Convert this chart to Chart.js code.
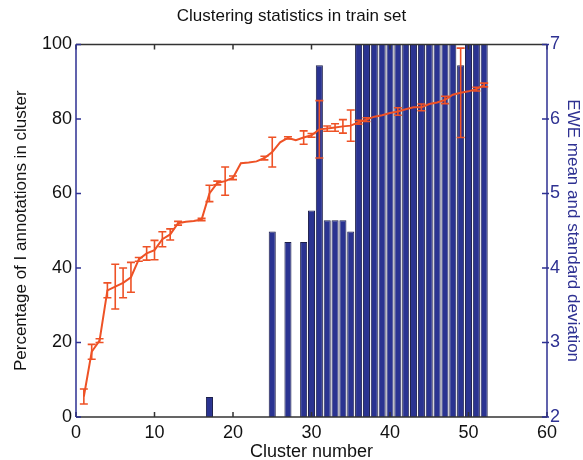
<!DOCTYPE html>
<html>
<head>
<meta charset="utf-8">
<script src="https://cdn.jsdelivr.net/npm/chart.js@4.4.1/dist/chart.umd.min.js"></script>
<style>
  html, body { margin: 0; padding: 0; background: #fff; }
  #wrap { width: 583px; height: 460px; }
</style>
</head>
<body>
<div id="wrap"><canvas id="clusterChart"></canvas></div>
<script>
// Cluster index 1..52
var clusters = [];
for (var i = 1; i <= 52; i++) clusters.push(i);

// Percentage of I annotations (left axis)
var pctMean = [5.5, 17.5, 20.5, 34, 35, 36, 37.5, 42.3, 43.9, 44.8,
    47.7, 49, 52, 52.4, 52.6, 53, 60, 62.8, 63.3, 64.2,
    68.1, 68.3, 68.6, 69.5, 71.1, 73.7, 74.9, 74.3, 75, 75.6,
    77.2, 77.4, 77.7, 78, 78.2, 79.1, 79.8, 80.6, 81, 81.6,
    82, 82.6, 83.1, 83.1, 84, 84.4, 85.1, 86.5, 87, 87.4,
    88, 89.1];
var pctErr = [2, 2, 0.5, 2, 6, 4, 4, 0.5, 1.8, 2.6,
    2, 1.5, 0.5, 0, 0, 0.3, 2.2, 0.5, 3.8, 0.5,
    0, 0, 0, 0.5, 4, 0, 0.3, 0, 1.8, 0.5,
    7.7, 0.7, 1, 1.8, 4.2, 0.5, 0.5, 0, 0, 0,
    1, 0, 0, 0.9, 0, 0, 1, 0, 12, 0,
    0.5, 0.5];

// EWE mean (right axis), null where the bar is below the axis floor
var eweMean = [null, null, null, null, null, null, null, null, null, null,
    null, null, null, null, null, null, 2.27, null, null, null,
    null, null, null, null, 4.49, null, 4.35, null, 4.35, 4.77,
    6.72, 4.64, 4.64, 4.64, 4.49, 7.5, 7.5, 7.5, 7.5, 7.5,
    7.5, 7.5, 7.5, 7.5, 7.5, 7.5, 7.5, 7.5, 6.72, 7.5,
    7.5, 7.5];

var xTicks = [0, 10, 20, 30, 40, 50, 60];
var leftTicks = [0, 20, 40, 60, 80, 100];
var rightTicks = [2, 3, 4, 5, 6, 7];

var colors = {
    line: '#EE5226',
    bar: '#2A3391',
    barEdge: '#1C1F4A',
    navy: '#2E3192',
    frame: '#333333'
};

var font = 'Liberation Sans, Arial, sans-serif';

// Error bars drawn on top of the line using the chart's own scales
var errorBarPlugin = {
    id: 'errorBars',
    afterDatasetsDraw: function (chart) {
        var ctx = chart.ctx;
        var xs = chart.scales.x;
        var ys = chart.scales.y;
        ctx.save();
        ctx.strokeStyle = colors.line;
        ctx.lineWidth = 1.6;
        for (var i = 0; i < clusters.length; i++) {
            if (!pctErr[i]) continue;
            var px = xs.getPixelForValue(clusters[i]);
            var top = ys.getPixelForValue(pctMean[i] + pctErr[i]);
            var bot = ys.getPixelForValue(pctMean[i] - pctErr[i]);
            ctx.beginPath();
            ctx.moveTo(px, top); ctx.lineTo(px, bot);
            ctx.moveTo(px - 4, top); ctx.lineTo(px + 4, top);
            ctx.moveTo(px - 4, bot); ctx.lineTo(px + 4, bot);
            ctx.stroke();
        }
        ctx.restore();
    }
};

// MATLAB style box with inward ticks
var framePlugin = {
    id: 'frame',
    afterDraw: function (chart) {
        var a = chart.chartArea;
        var ctx = chart.ctx;
        var xs = chart.scales.x, yl = chart.scales.y, yr = chart.scales.y2;
        ctx.save();
        ctx.lineWidth = 1.5;
        ctx.strokeStyle = colors.frame;
        ctx.beginPath();
        ctx.moveTo(a.left, a.top); ctx.lineTo(a.right, a.top);
        ctx.moveTo(a.left, a.bottom); ctx.lineTo(a.right, a.bottom);
        xTicks.forEach(function (v) {
            var px = xs.getPixelForValue(v);
            ctx.moveTo(px, a.bottom); ctx.lineTo(px, a.bottom - 5);
            ctx.moveTo(px, a.top); ctx.lineTo(px, a.top + 5);
        });
        ctx.stroke();
        ctx.strokeStyle = colors.navy;
        ctx.beginPath();
        ctx.moveTo(a.left, a.top); ctx.lineTo(a.left, a.bottom);
        ctx.moveTo(a.right, a.top); ctx.lineTo(a.right, a.bottom);
        leftTicks.forEach(function (v) {
            var py = yl.getPixelForValue(v);
            ctx.moveTo(a.left, py); ctx.lineTo(a.left + 5, py);
        });
        rightTicks.forEach(function (v) {
            var py = yr.getPixelForValue(v);
            ctx.moveTo(a.right + 2, py); ctx.lineTo(a.right - 5, py);
        });
        ctx.stroke();
        ctx.restore();
    }
};

var barPoints = clusters.map(function (c, i) { return { x: c, y: eweMean[i] }; });
var linePoints = clusters.map(function (c, i) { return { x: c, y: pctMean[i] }; });

new Chart(document.getElementById('clusterChart'), {
    data: {
        datasets: [{
            type: 'line',
            data: linePoints,
            yAxisID: 'y',
            borderColor: colors.line,
            borderWidth: 2,
            pointRadius: 0,
            tension: 0,
            order: 1
        }, {
            type: 'bar',
            data: barPoints,
            yAxisID: 'y2',
            backgroundColor: colors.bar,
            borderColor: colors.barEdge,
            borderWidth: 1,
            barPercentage: 0.9,
            categoryPercentage: 1,
            order: 2
        }]
    },
    options: {
        responsive: true,
        maintainAspectRatio: false,
        animation: false,
        layout: { padding: { left: 0, right: 0, top: 0, bottom: 0 } },
        scales: {
            x: {
                type: 'linear',
                min: 0,
                max: 60,
                offset: false,
                afterBuildTicks: function (s) { s.ticks = xTicks.map(function (v) { return { value: v }; }); },
                afterFit: function (s) { s.height = 43; },
                grid: { display: false, drawTicks: false, offset: false },
                border: { display: false },
                ticks: { color: '#111', font: { family: font, size: 18 }, padding: 5, maxRotation: 0 },
                title: { display: true, text: 'Cluster number', color: '#111', font: { family: font, size: 18, lineHeight: 1 }, padding: { top: 2, bottom: -1 } }
            },
            y: {
                position: 'left',
                min: 0,
                max: 100,
                afterBuildTicks: function (s) { s.ticks = leftTicks.map(function (v) { return { value: v }; }); },
                afterFit: function (s) { s.width = 76; },
                grid: { display: false, drawTicks: false },
                border: { display: false },
                ticks: { color: '#111', font: { family: font, size: 18 }, padding: 4 },
                title: { display: true, text: 'Percentage of I annotations in cluster', color: '#111', font: { family: font, size: 17 }, padding: { top: 11, bottom: 0 } }
            },
            y2: {
                position: 'right',
                min: 2,
                max: 7,
                afterBuildTicks: function (s) { s.ticks = rightTicks.map(function (v) { return { value: v }; }); },
                afterFit: function (s) { s.width = 36; },
                grid: { display: false, drawTicks: false },
                border: { display: false },
                ticks: { color: colors.navy, font: { family: font, size: 18 }, padding: 3 },
                title: { display: true, text: 'EWE mean and standard deviation', color: colors.navy, font: { family: font, size: 17 }, padding: { top: 0, bottom: 1 } }
            }
        },
        plugins: {
            legend: { display: false },
            tooltip: { enabled: false },
            title: {
                display: true,
                text: 'Clustering statistics in train set',
                color: '#111',
                font: { family: font, size: 17, weight: 'normal' },
                padding: { top: 6, bottom: 18 }
            }
        }
    },
    plugins: [errorBarPlugin, framePlugin]
});
</script>
</body>
</html>
